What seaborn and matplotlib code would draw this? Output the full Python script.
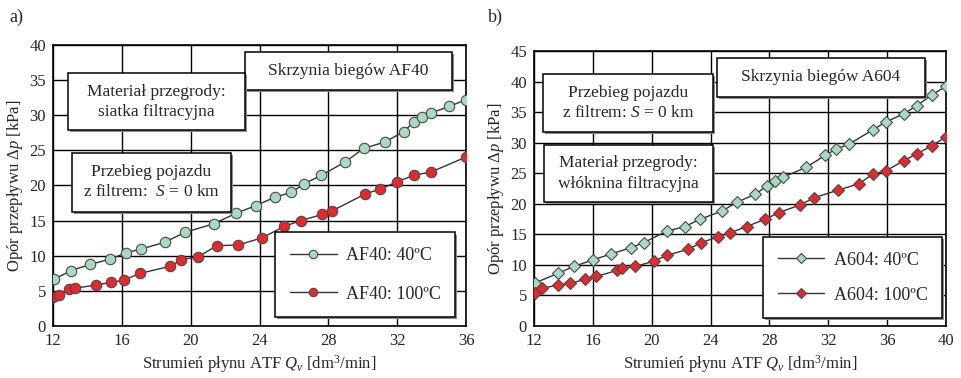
import numpy as np
import pandas as pd
import matplotlib
matplotlib.use("Agg")
import matplotlib.pyplot as plt
import matplotlib.patheffects as pe
from matplotlib.patches import Rectangle
from matplotlib.lines import Line2D
import seaborn as sb

# ---- data: panel a) AF40 ----
af_q40 = [12.06, 13.03, 14.17, 15.29, 16.26, 17.13, 18.48, 19.67, 21.34, 22.62, 23.78, 24.87,
          25.84, 26.61, 27.58, 28.97, 30.05, 31.29, 32.37, 32.95, 33.43, 33.96, 35.02, 36.0]
af_p40 = [6.64, 7.87, 8.78, 9.49, 10.44, 10.96, 11.91, 13.33, 14.56, 16.03, 17.13, 18.31,
          19.02, 20.26, 21.44, 23.34, 25.28, 26.19, 27.66, 29.03, 29.70, 30.31, 31.26, 32.21]
af_q100 = [12.0, 12.35, 12.91, 13.26, 14.48, 15.39, 16.14, 17.07, 18.81, 19.46, 20.45, 21.51,
           22.76, 24.17, 25.43, 26.39, 27.65, 28.23, 30.14, 31.0, 31.97, 32.95, 33.96, 36.0]
af_p100 = [4.17, 4.41, 5.22, 5.36, 5.83, 6.21, 6.55, 7.50, 8.49, 9.44, 9.87, 11.43,
           11.53, 12.57, 14.18, 14.99, 15.89, 16.41, 18.79, 19.50, 20.49, 21.44, 21.92, 24.05]

# ---- data: panel b) A604 ----
a6_q40 = [12.05, 13.66, 14.70, 16.02, 17.20, 18.56, 19.47, 21.01, 22.26, 23.28, 24.80, 25.77, 27.02,
          27.86, 28.38, 28.95, 30.49, 31.79, 32.53, 33.42, 35.03, 35.94, 37.12, 38.03, 39.05, 40.0]
a6_p40 = [7.02, 8.65, 9.74, 10.83, 11.76, 12.79, 13.66, 15.51, 16.27, 17.47, 18.83, 20.24, 21.55,
          22.97, 23.73, 24.38, 25.96, 27.92, 28.95, 29.77, 32.11, 33.41, 34.72, 36.08, 37.82, 39.24]
a6_q100 = [12.05, 12.57, 13.66, 14.45, 15.45, 16.24, 17.63, 17.99, 18.88, 20.15, 21.05, 22.44, 23.35, 24.53,
           25.32, 26.45, 27.70, 28.65, 30.08, 31.06, 32.63, 34.10, 35.03, 35.94, 37.12, 38.03, 39.05, 40.0]
a6_p100 = [5.39, 6.15, 6.75, 6.97, 7.62, 8.11, 9.09, 9.47, 9.74, 10.61, 11.59, 12.52, 13.61, 14.64,
           15.24, 16.27, 17.47, 18.56, 19.81, 21.01, 22.20, 23.29, 24.87, 25.41, 27.05, 28.19, 29.50, 30.97]

green = "#a6dbbf"
red = "#e8262b"

sb.set_style("white")
plt.rcParams["font.family"] = ["Liberation Serif", "DejaVu Serif"]
plt.rcParams["mathtext.fontset"] = "custom"
plt.rcParams["mathtext.rm"] = "Liberation Serif"
plt.rcParams["mathtext.it"] = "Liberation Serif:italic"
plt.rcParams["font.size"] = 11.5

fig = plt.figure(figsize=(9.61, 3.78), dpi=100)
ax1 = fig.add_axes([0.0552, 0.1376, 0.4298, 0.7434])
ax2 = fig.add_axes([0.5557, 0.1376, 0.4287, 0.7275])

shadow = [pe.SimplePatchShadow(offset=(1.5, -1.5), shadow_rgbFace="0.55", alpha=1), pe.Normal()]


def text_box(ax, x0, y0, x1, y1, txt):
    r = Rectangle((x0, y0), x1 - x0, y1 - y0, transform=ax.transAxes, facecolor="white",
                  edgecolor="black", linewidth=1.1, zorder=5)
    r.set_path_effects(shadow)
    ax.add_patch(r)
    ax.text((x0 + x1) / 2, (y0 + y1) / 2, txt, transform=ax.transAxes, ha="center", va="center",
            zorder=6, linespacing=1.35, fontsize=12.5)


def panel(ax, q40, p40, q100, p100, marker, ms, xmax, ymax):
    df40 = pd.DataFrame({"q": q40, "p": p40})
    df100 = pd.DataFrame({"q": q100, "p": p100})
    sb.lineplot(data=df40, x="q", y="p", ax=ax, color="#333333", lw=1.0, marker=marker, ms=ms,
                markerfacecolor=green, markeredgecolor="#4a4a4a", markeredgewidth=0.8,
                estimator=None, zorder=3)
    sb.lineplot(data=df100, x="q", y="p", ax=ax, color="#333333", lw=1.0, marker=marker, ms=ms,
                markerfacecolor=red, markeredgecolor="#4a4a4a", markeredgewidth=0.8,
                estimator=None, zorder=3)
    ax.set_xlim(12, xmax)
    ax.set_ylim(0, ymax)
    ax.set_xticks(np.arange(12, xmax + 1, 4))
    ax.set_yticks(np.arange(0, ymax + 1, 5))
    ax.grid(True, color="black", linewidth=1.0)
    ax.set_axisbelow(True)
    for s in ax.spines.values():
        s.set_color("black")
        s.set_linewidth(1.2)
    ax.tick_params(length=0, pad=5, labelsize=12)
    ax.set_xlabel("Strumień płynu ATF $Q_v$ [dm$^3$/min]", fontsize=12, labelpad=3)
    ax.set_ylabel("Opór przepływu Δ$p$ [kPa]", fontsize=12, labelpad=3)
    handles = [
        Line2D([], [], color="#333333", lw=1.0, marker=marker, ms=ms - 1.5, markerfacecolor=green,
               markeredgecolor="#4a4a4a", markeredgewidth=0.8),
        Line2D([], [], color="#333333", lw=1.0, marker=marker, ms=ms - 1.5, markerfacecolor=red,
               markeredgecolor="#4a4a4a", markeredgewidth=0.8),
    ]
    return handles


h1 = panel(ax1, af_q40, af_p40, af_q100, af_p100, "o", 7.5, 36, 40)
h2 = panel(ax2, a6_q40, a6_p40, a6_q100, a6_p100, "D", 6.5, 40, 45)

text_box(ax1, 0.465, 0.840, 0.966, 0.976, "Skrzynia biegów AF40")
text_box(ax1, 0.036, 0.697, 0.465, 0.900, "Materiał przegrody:\nsiatka filtracyjna")
text_box(ax1, 0.046, 0.406, 0.431, 0.616, "Przebieg pojazdu\nz filtrem:  $S$ = 0 km")

text_box(ax2, 0.444, 0.833, 0.949, 0.975, "Skrzynia biegów A604")
text_box(ax2, 0.022, 0.705, 0.434, 0.916, "Przebieg pojazdu\nz filtrem: $S$ = 0 km")
text_box(ax2, 0.024, 0.451, 0.434, 0.658, "Materiał przegrody:\nwłóknina filtracyjna")

leg_kw = dict(loc="lower left", frameon=True, fancybox=False, edgecolor="black", framealpha=1,
              handlelength=2.6, borderpad=0.8, handletextpad=0.5, borderaxespad=0, fontsize=13)
leg1 = ax1.legend(h1, ["AF40: 40ºC", "AF40: 100ºC"], bbox_to_anchor=(0.538, 0.032),
                  labelspacing=1.2, **leg_kw)
leg2 = ax2.legend(h2, ["A604: 40ºC", "A604: 100ºC"], bbox_to_anchor=(0.556, 0.029),
                  labelspacing=1.0, **leg_kw)
for leg in (leg1, leg2):
    leg.get_frame().set_linewidth(1.1)
    leg.get_frame().set_path_effects(shadow)
    leg.set_zorder(7)

fig.text(0.010, 0.955, "a)", fontsize=13, va="center")
fig.text(0.508, 0.955, "b)", fontsize=13, va="center")

plt.savefig("out.png", dpi=100)
